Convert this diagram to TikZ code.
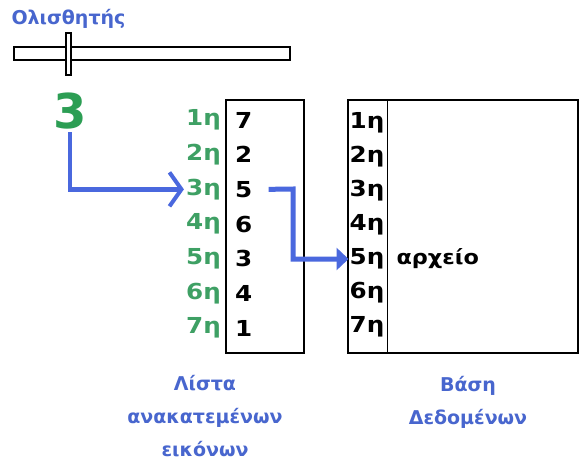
\documentclass[tikz,border=0pt]{standalone}
\usepackage{fontspec}
\setmainfont{DejaVu Sans}
\newfontfamily\rowfont[FakeStretch=1.12]{DejaVu Sans}
\usetikzlibrary{arrows.meta}

\definecolor{capblue}{RGB}{72,102,206}
\definecolor{flowblue}{RGB}{74,104,222}
\definecolor{valgreen}{RGB}{44,158,84}
\definecolor{rowgreen}{RGB}{62,160,100}

\tikzset{
  frame/.style={draw=black, line width=1.3pt, inner sep=0pt},
  caption/.style={text=capblue, font=\bfseries\fontsize{19}{33}\selectfont, align=center},
  rowlabel/.style={text=rowgreen, font=\rowfont\bfseries\fontsize{22}{22}\selectfont, anchor=east, inner sep=2pt},
  rowvalue/.style={text=black, font=\rowfont\bfseries\fontsize{22}{22}\selectfont, anchor=west, inner sep=2pt},
  dblabel/.style={text=black, font=\rowfont\bfseries\fontsize{22}{22}\selectfont, anchor=west, inner sep=1pt},
  pickarrow/.style={draw=flowblue, line width=4.5pt,
    -{Straight Barb[length=12pt,width=34pt,line width=4pt]}},
  lookarrow/.style={draw=flowblue, line width=5pt,
    -{Triangle[length=12pt,width=22pt]}},
}

\begin{document}
\begin{tikzpicture}[x=1pt,y=-1pt]
\useasboundingbox[fill=white] (0,0) rectangle (581,461);

% slider with its thumb
\node[caption, font=\bfseries\fontsize{19}{19}\selectfont, anchor=west] (title) at (8,19) {Ολισθητής};
\node[frame, fill=white, minimum width=276pt, minimum height=13pt] (bar) at (152,53.5) {};
\node[frame, fill=white, minimum width=5pt, minimum height=42pt] (thumb) at (68.5,54) {};

% value read from the slider
\node[text=valgreen, font=\bfseries\fontsize{48}{48}\selectfont, inner sep=3pt] (val) at (70,111) {3};

% shuffled picture list
\node[frame, minimum width=78pt, minimum height=253pt] (list) at (265,226.5) {};
\foreach \i/\n in {1/7,2/2,3/5,4/6,5/3,6/4,7/1}{
  \node[rowlabel] (l\i) at (223,{120+34.67*(\i-1)}) {\i η};
  \node[rowvalue] (n\i) at (233,{120+34.67*(\i-1)}) {\n};
}

% database table
\node[frame, minimum width=230pt, minimum height=253pt] (db) at (463,226.5) {};
\draw[line width=1.3pt] ([xshift=40pt]db.north west) -- ([xshift=40pt]db.south west);
\foreach \i in {1,...,7}{
  \node[dblabel] (d\i) at (348.5,{123+34*(\i-1)}) {\i η};
}
\node[text=black, font=\rowfont\bfseries\fontsize{20}{20}\selectfont, anchor=west] (file) at (393,259) {αρχείο};

% connectors
\draw[pickarrow] (val.south) |- (l3.west);
\coordinate (bend) at (293,189);
\draw[lookarrow, line join=miter] ([xshift=14pt]n3.east) -- (bend) |- (d5.west);

% captions
\node[caption] (listcap) at (205,416) {Λίστα\\ανακατεμένων\\εικόνων};
\node[caption] (dbcap) at (468,402) {Βάση\\Δεδομένων};
\end{tikzpicture}
\end{document}
